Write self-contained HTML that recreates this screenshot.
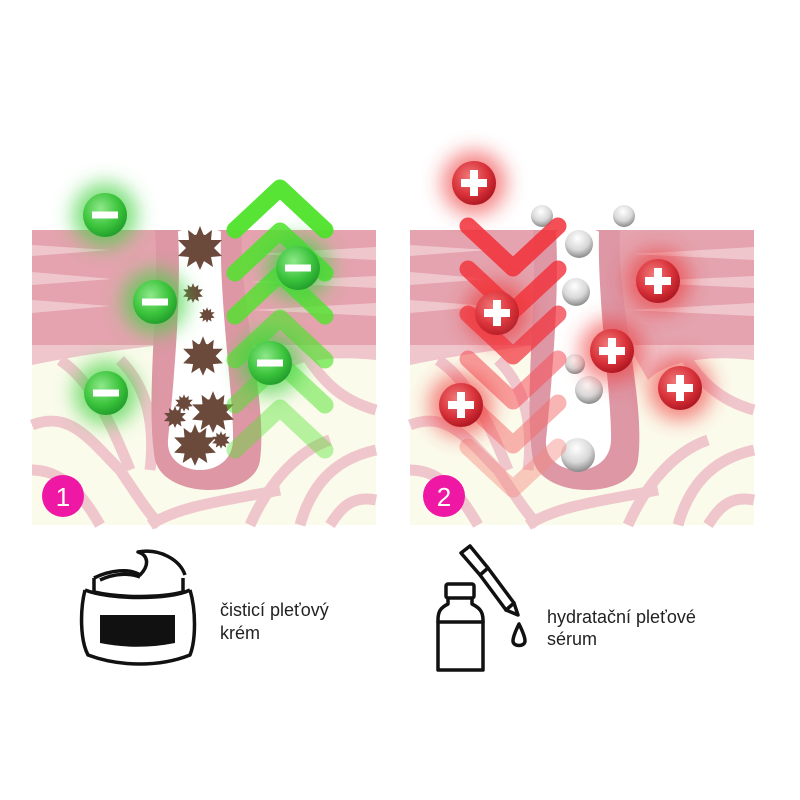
<!DOCTYPE html>
<html><head><meta charset="utf-8"><style>
html,body{margin:0;padding:0;background:#fff;width:800px;height:800px;overflow:hidden}
svg{display:block}
text{font-family:"Liberation Sans",sans-serif}
</style></head><body>
<svg width="800" height="800" viewBox="0 0 800 800" xmlns="http://www.w3.org/2000/svg">
<defs>
<filter id="b6" x="-1" y="-1" width="3" height="3"><feGaussianBlur stdDeviation="10"/></filter>
<radialGradient id="gg" cx="0.4" cy="0.35" r="0.7"><stop offset="0" stop-color="#8fe88a"/><stop offset="0.6" stop-color="#3cc43c"/><stop offset="1" stop-color="#1f9a2a"/></radialGradient>
<radialGradient id="rg" cx="0.4" cy="0.35" r="0.7"><stop offset="0" stop-color="#f07a7a"/><stop offset="0.6" stop-color="#d9323a"/><stop offset="1" stop-color="#a9141e"/></radialGradient>
<radialGradient id="pg" cx="0.45" cy="0.3" r="0.7"><stop offset="0" stop-color="#ffffff"/><stop offset="0.6" stop-color="#d8d8d8"/><stop offset="1" stop-color="#8a8a8a"/></radialGradient>
<path id="star" d="M0-22L4-12L12-18L11-8L22-8L14 0L22 8L11 9L13 19L4 13L0 22L-4 13L-13 19L-11 9L-22 8L-14 0L-22-8L-11-8L-12-18L-4-12Z"/>
<g id="panel">
  <rect x="32" y="230" width="344" height="295" fill="#fbfbec"/>
  <g fill="none" stroke="#efc6cc" stroke-width="11">
    <path d="M32 425 C70 410 90 440 120 470 C140 500 150 515 160 525"/>
    <path d="M32 470 C60 470 80 490 100 525"/>
    <path d="M60 360 C90 380 110 420 130 470"/>
    <path d="M300 525 C310 490 330 460 376 450"/>
    <path d="M376 410 C340 400 320 380 300 345"/>
    <path d="M250 525 C270 480 300 450 330 440"/>
    <path d="M376 500 C350 495 340 510 330 525"/>
    <path d="M150 525 C180 505 230 500 280 490"/>
    <path d="M120 360 C150 390 155 430 150 470"/>
  </g>
  <path d="M32 345 L376 345 L376 360 C330 355 290 360 270 380 L250 345 Z" fill="#efc6cc"/>
  <path d="M32 345 L160 345 C120 350 80 355 32 365 Z" fill="#efc6cc"/>
  <rect x="32" y="230" width="344" height="115" fill="#e4a3ae"/>
  <g fill="#efc6cc">
    <path d="M32 245 L110 250 L32 256 Z"/>
    <path d="M32 272 L112 279 L32 285 Z"/>
    <path d="M32 300 L110 306 L32 313 Z"/>
    <path d="M376 247 L255 254 L376 260 Z"/>
    <path d="M376 276 L250 282 L376 288 Z"/>
    <path d="M376 303 L252 310 L376 316 Z"/>
  </g>
  <path d="M155 230 C160 300 145 400 155 460 C165 500 255 500 260 460 C268 400 238 300 242 230 Z" fill="#dd97a5"/>
  <path d="M178 232 C182 300 172 400 168 440 C165 478 232 482 233 440 C234 400 219 300 221 232 C221 228 178 228 178 232 Z" fill="#fff"/>
</g>
</defs>

<use href="#panel"/>
<use href="#panel" transform="translate(378,0)"/>

<g fill="#6b4a3c">
  <g transform="translate(200,248)"><circle r="14"/><use href="#star"/></g>
  <g transform="translate(193,293) scale(0.45)"><circle r="14"/><use href="#star"/></g>
  <g transform="translate(207,315) scale(0.35)"><circle r="14"/><use href="#star"/></g>
  <g transform="translate(203,356) scale(0.9)"><circle r="14"/><use href="#star"/></g>
  <g transform="translate(213,412) scale(0.95)"><circle r="14"/><use href="#star"/></g>
  <g transform="translate(184,403) scale(0.4)"><circle r="14"/><use href="#star"/></g>
  <g transform="translate(175,417) scale(0.5)"><circle r="14"/><use href="#star"/></g>
  <g transform="translate(195,445) scale(0.95)"><circle r="14"/><use href="#star"/></g>
  <g transform="translate(221,440) scale(0.4)"><circle r="14"/><use href="#star"/></g>
</g>

<g fill="none" stroke-width="17" stroke-linecap="round" stroke-linejoin="round">
  <path d="M235 230 L280 188 L325 230" stroke="#4fe32a" stroke-opacity="0.95"/>
  <path d="M235 273 L280 231 L325 273" stroke="#4fe32a" stroke-opacity="0.85"/>
  <path d="M235 316 L280 274 L325 316" stroke="#4fe32a" stroke-opacity="0.8"/>
  <path d="M235 360 L280 318 L325 360" stroke="#4fe32a" stroke-opacity="0.65"/>
  <path d="M235 405 L280 363 L325 405" stroke="#4fe32a" stroke-opacity="0.5"/>
  <path d="M235 450 L280 408 L325 450" stroke="#4fe32a" stroke-opacity="0.4"/>
</g>

<g>
  <g transform="translate(105,215)"><circle r="32" fill="#3fd13f" opacity="0.7" filter="url(#b6)"/><circle r="22" fill="url(#gg)"/><rect x="-13" y="-3.5" width="26" height="7" fill="#fff"/></g>
  <g transform="translate(155,302)"><circle r="32" fill="#3fd13f" opacity="0.7" filter="url(#b6)"/><circle r="22" fill="url(#gg)"/><rect x="-13" y="-3.5" width="26" height="7" fill="#fff"/></g>
  <g transform="translate(106,393)"><circle r="32" fill="#3fd13f" opacity="0.7" filter="url(#b6)"/><circle r="22" fill="url(#gg)"/><rect x="-13" y="-3.5" width="26" height="7" fill="#fff"/></g>
  <g transform="translate(298,268)"><circle r="32" fill="#3fd13f" opacity="0.7" filter="url(#b6)"/><circle r="22" fill="url(#gg)"/><rect x="-13" y="-3.5" width="26" height="7" fill="#fff"/></g>
  <g transform="translate(270,363)"><circle r="32" fill="#3fd13f" opacity="0.7" filter="url(#b6)"/><circle r="22" fill="url(#gg)"/><rect x="-13" y="-3.5" width="26" height="7" fill="#fff"/></g>
</g>

<g>
  <circle cx="542" cy="216" r="11" fill="url(#pg)"/>
  <circle cx="624" cy="216" r="11" fill="url(#pg)"/>
  <circle cx="579" cy="244" r="14" fill="url(#pg)"/>
  <circle cx="576" cy="292" r="14" fill="url(#pg)"/>
  <circle cx="575" cy="364" r="10" fill="url(#pg)"/>
  <circle cx="589" cy="390" r="14" fill="url(#pg)"/>
  <circle cx="578" cy="455" r="17" fill="url(#pg)"/>
</g>

<g fill="none" stroke-width="17" stroke-linecap="round" stroke-linejoin="round">
  <path d="M468 226 L513 268 L558 226" stroke="#f2303a" stroke-opacity="0.85"/>
  <path d="M468 269 L513 311 L558 269" stroke="#f2303a" stroke-opacity="0.8"/>
  <path d="M468 314 L513 356 L558 314" stroke="#f2303a" stroke-opacity="0.7"/>
  <path d="M468 359 L513 401 L558 359" stroke="#f4505a" stroke-opacity="0.55"/>
  <path d="M468 403 L513 445 L558 403" stroke="#f46a6a" stroke-opacity="0.5"/>
  <path d="M468 447 L513 489 L558 447" stroke="#f58a80" stroke-opacity="0.45"/>
</g>

<g>
  <g transform="translate(474,183)"><circle r="32" fill="#e33" opacity="0.6" filter="url(#b6)"/><circle r="22" fill="url(#rg)"/><path d="M-4-13H4V-4H13V4H4V13H-4V4H-13V-4H-4Z" fill="#fff"/></g>
  <g transform="translate(497,313)"><circle r="32" fill="#e33" opacity="0.6" filter="url(#b6)"/><circle r="22" fill="url(#rg)" opacity="0.85"/><path d="M-4-13H4V-4H13V4H4V13H-4V4H-13V-4H-4Z" fill="#fff"/></g>
  <g transform="translate(658,281)"><circle r="32" fill="#e33" opacity="0.6" filter="url(#b6)"/><circle r="22" fill="url(#rg)"/><path d="M-4-13H4V-4H13V4H4V13H-4V4H-13V-4H-4Z" fill="#fff"/></g>
  <g transform="translate(612,351)"><circle r="32" fill="#e33" opacity="0.6" filter="url(#b6)"/><circle r="22" fill="url(#rg)"/><path d="M-4-13H4V-4H13V4H4V13H-4V4H-13V-4H-4Z" fill="#fff"/></g>
  <g transform="translate(680,388)"><circle r="32" fill="#e33" opacity="0.6" filter="url(#b6)"/><circle r="22" fill="url(#rg)"/><path d="M-4-13H4V-4H13V4H4V13H-4V4H-13V-4H-4Z" fill="#fff"/></g>
  <g transform="translate(461,405)"><circle r="32" fill="#e33" opacity="0.6" filter="url(#b6)"/><circle r="22" fill="url(#rg)"/><path d="M-4-13H4V-4H13V4H4V13H-4V4H-13V-4H-4Z" fill="#fff"/></g>
</g>

<circle cx="63" cy="496" r="21" fill="#ee18a5"/>
<text x="63" y="506" font-size="26" fill="#fff" text-anchor="middle">1</text>
<circle cx="444" cy="496" r="21" fill="#ee18a5"/>
<text x="444" y="506" font-size="26" fill="#fff" text-anchor="middle">2</text>

<g fill="none" stroke="#111" stroke-width="3.5" stroke-linejoin="round">
  <path d="M85 590 C80 610 80 640 88 655 C120 667 160 667 190 655 C196 640 196 610 190 590"/>
  <path d="M85 590 C110 600 170 600 190 590"/>
  <path d="M94 578 L94 592 M183 578 L183 592"/>
  <path d="M94 592 C120 598 160 598 183 592"/>
  <path d="M94 578 C110 570 130 568 140 575 C150 565 148 555 138 552 C160 548 180 560 185 575"/>
  <path d="M100 580 C115 573 130 573 140 577"/>
</g>
<path d="M100 615 L175 615 L175 643 C150 648 125 648 100 643 Z" fill="#111"/>
<text x="220" y="616" font-size="18" fill="#222">čisticí pleťový</text>
<text x="220" y="639" font-size="18" fill="#222">krém</text>

<g fill="none" stroke="#111" stroke-width="3.5" stroke-linejoin="round" stroke-linecap="round">
  <rect x="446" y="584" width="28" height="14" rx="2"/>
  <path d="M448 598 L448 604 C440 608 438 612 438 620 L438 670 L483 670 L483 620 C483 612 480 608 472 604 L472 598"/>
  <path d="M438 622 L483 622"/>
  <path d="M461 553 L470 546 L488 568 L480 575 Z"/>
  <path d="M480 575 L506 610 M488 568 L514 603"/>
  <path d="M506 610 L514 603 L518 615 Z"/>
  <path d="M519 624 C515 632 513 637 513 641 C513 647 525 647 525 641 C525 637 523 632 519 624 Z"/>
</g>
<text x="547" y="623" font-size="18" fill="#222">hydratační pleťové</text>
<text x="547" y="645" font-size="18" fill="#222">sérum</text>
</svg>
</body></html>
